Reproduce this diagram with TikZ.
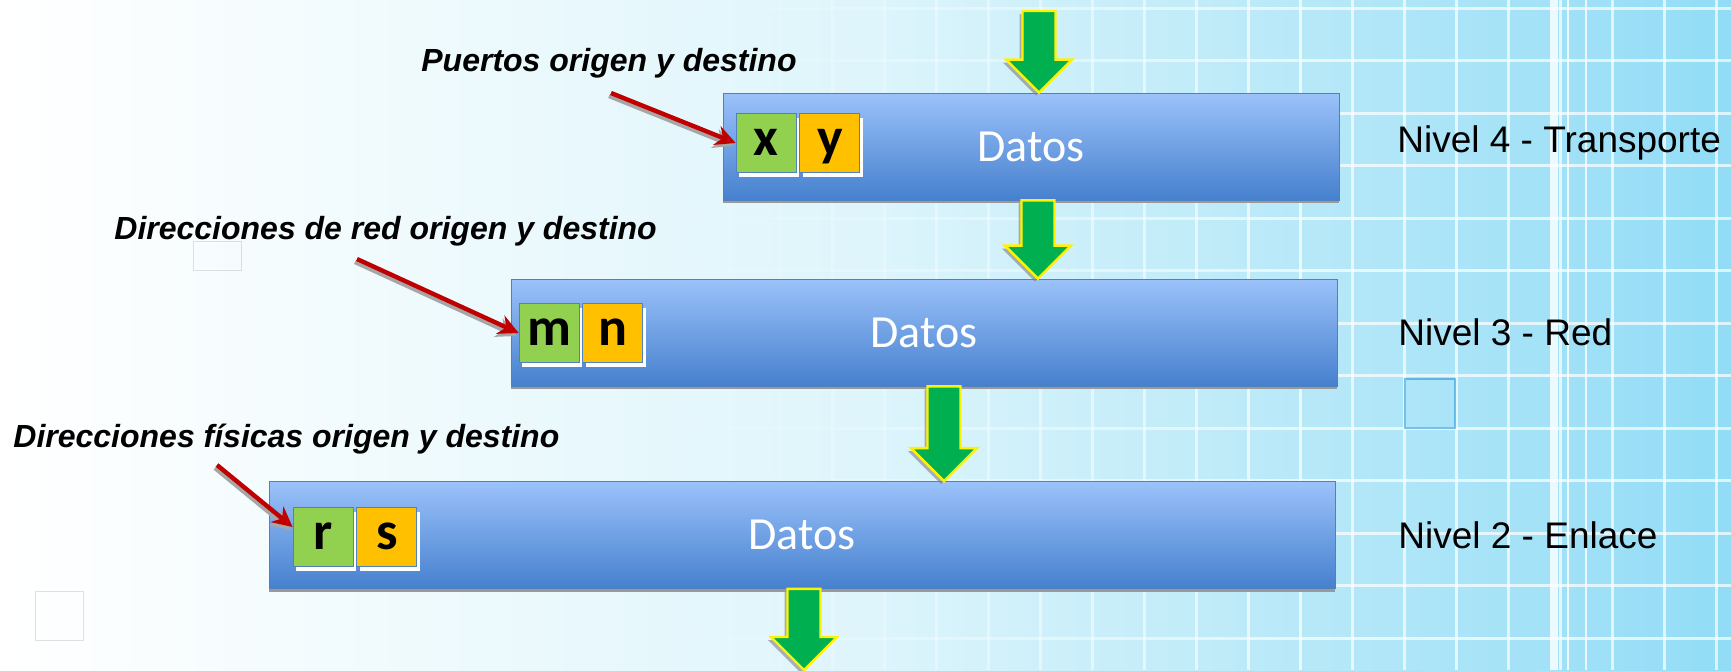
\documentclass[tikz,border=0pt]{standalone}
\usepackage{fontspec}
\setmainfont{Liberation Sans}
\newfontfamily\calibri{Carlito}
\usetikzlibrary{calc, positioning, shadows, arrows.meta}

\definecolor{fondo}{RGB}{146,220,246}
\definecolor{fondomedio}{RGB}{222,245,251}
\definecolor{cajaarriba}{RGB}{155,194,250}
\definecolor{cajaabajo}{RGB}{70,128,206}
\definecolor{borde}{RGB}{79,129,189}
\definecolor{verde}{RGB}{146,208,80}
\definecolor{naranja}{RGB}{255,192,0}
\definecolor{verdeflecha}{RGB}{0,176,80}
\definecolor{rojo}{RGB}{192,0,0}

\tikzset{
  capa/.style={draw=borde, thin, top color=cajaarriba, bottom color=cajaabajo,
    minimum height=53.5pt, inner sep=0pt, text=white,
    font=\calibri\fontsize{23}{23}\selectfont,
    drop shadow={shadow xshift=0pt, shadow yshift=-1.5pt, fill=gray!80, opacity=1}},
  campo/.style={draw=borde, minimum width=30pt, minimum height=29.5pt, inner sep=0pt,
    text height=12pt, text depth=0pt,
    font=\calibri\bfseries\fontsize{27}{27}\selectfont,
    drop shadow={shadow xshift=1.5pt, shadow yshift=-2pt, fill=white, opacity=1}},
  nota/.style={anchor=base west, inner sep=0pt, font=\bfseries\itshape\fontsize{16}{16}\selectfont},
  nivel/.style={anchor=base west, inner sep=0pt, font=\fontsize{18.5}{18.5}\selectfont},
  flechaverde/.style={fill=verdeflecha, draw=yellow, line width=1.2pt, line join=miter,
    drop shadow={shadow xshift=-1.5pt, shadow yshift=-1.5pt, fill=gray, opacity=.6}},
  puntero/.style={draw=rojo, line width=2.2pt, -{Stealth[length=10pt,width=10pt]}},
  sombra/.style={draw=gray!70, line width=2.2pt, -{Stealth[length=10pt,width=10pt]},
    transform canvas={xshift=-1pt, yshift=-1.5pt}},
  rejilla/.style={white, line width=1.5pt},
}

% green block arrow: #1 top of shaft, #2 tip
\newcommand{\flecha}[2]{%
  \filldraw[flechaverde] ($(#1)+(-16.5,0)$) -- ($(#2)+(-16.5,-33)$) -- ($(#2)+(-33,-33)$)
    -- (#2) -- ($(#2)+(33,-33)$) -- ($(#2)+(16.5,-33)$) -- ($(#1)+(16.5,0)$) -- cycle;}

\begin{document}
\begin{tikzpicture}[x=0.5pt, y=-0.5pt]
  \useasboundingbox (0,0) rectangle (1731,670);
  % background
  \shade[left color=white, right color=fondo, middle color=fondomedio] (0,0) rectangle (1731,670);
  \foreach \gx in {624,676,...,1716} {
    \pgfmathsetmacro\op{min(0.7,max(0,(\gx-600)/1000))}
    \draw[rejilla, opacity=\op] (\gx,0) -- (\gx,670);
    \foreach \gy in {8,60.5,...,640}
      \draw[rejilla, opacity=\op] (\gx,\gy) -- (\gx+52,\gy);
  }
  \fill[white, opacity=.8] (1550,0) rectangle (1558,670);
  \draw[white, line width=1pt, opacity=.8] (1568,0) -- (1568,670);
  \draw[white, line width=1pt, opacity=.8] (1586,0) -- (1586,670);
  \draw[cyan!70!blue, opacity=.5, line width=1pt] (1405,379) rectangle (1455,428);
  \draw[gray!40, opacity=.6] (35,591) rectangle (83,640);
  \draw[gray!40, opacity=.6] (193,241) rectangle (241,270);

  % layers
  \node[capa, minimum width=308pt] (t4) at (1031,146.5) {Datos};
  \node[capa, minimum width=413pt] (t3) at (924,332.5) {Datos};
  \node[capa, minimum width=533pt] (t2) at (802,535) {Datos};

  % green arrows
  \coordinate (entrada) at (1039,11);
  \coordinate (a3) at (1038,0);
  \coordinate (a2) at (944,0);
  \coordinate (salida) at (804,670);
  \flecha{entrada}{entrada |- t4.north}
  \flecha{a3 |- t4.south}{a3 |- t3.north}
  \flecha{a2 |- t3.south}{a2 |- t2.north}
  \flecha{salida |- t2.south}{salida}

  % header fields
  \node[campo, fill=verde] (x) at (766,143) {x};
  \node[campo, fill=naranja, right=1.5pt of x] (y) {y};
  \node[campo, fill=verde] (m) at (549,333) {m};
  \node[campo, fill=naranja, right=1.5pt of m] (n) {n};
  \node[campo, fill=verde] (r) at (323,537) {r};
  \node[campo, fill=naranja, right=1.5pt of r] (s) {s};

  % notes
  \node[nota] (l4) at (421,71) {Puertos origen y destino};
  \node[nota] (l3) at (114,239) {Direcciones de red origen y destino};
  \node[nota] (l2) at (13,447) {Direcciones físicas origen y destino};
  \coordinate (p4) at (611,93);
  \coordinate (p3) at (357,259);
  \coordinate (p2) at (217,465);
  \draw[sombra] (p4) -- (x.west);
  \draw[sombra] (p3) -- (m.west);
  \draw[sombra] (p2) -- ([yshift=5pt]r.west);
  \draw[puntero] (p4) -- (x.west);
  \draw[puntero] (p3) -- (m.west);
  \draw[puntero] (p2) -- ([yshift=5pt]r.west);

  % levels
  \node[nivel] (n4) at (1397,152) {Nivel 4 - Transporte};
  \node[nivel] (n3) at (1398,345) {Nivel 3 - Red};
  \node[nivel] (n2) at (1398,548) {Nivel 2 - Enlace};
\end{tikzpicture}
\end{document}
